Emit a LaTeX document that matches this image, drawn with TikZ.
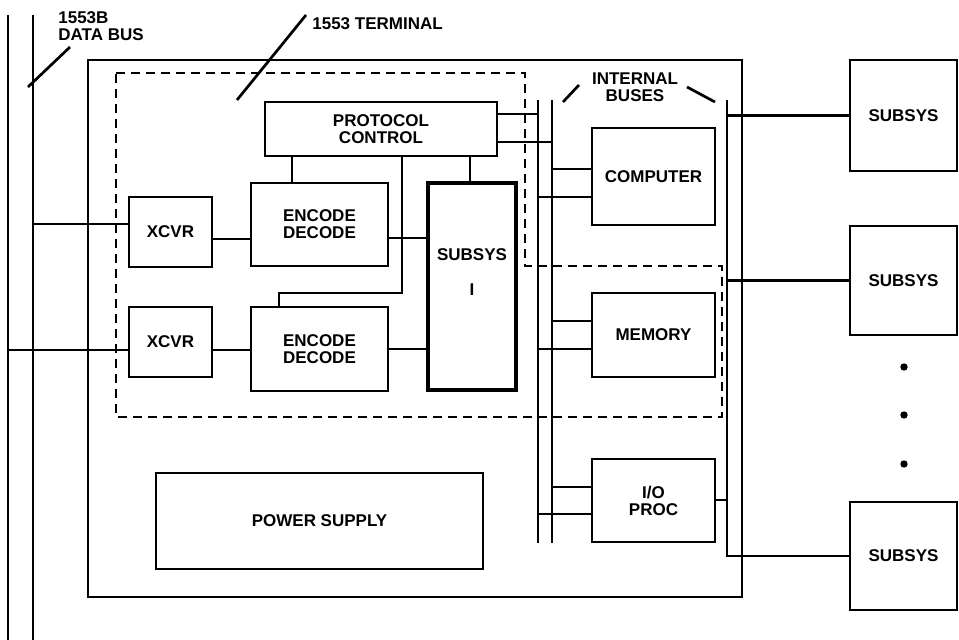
\documentclass[tikz,border=0pt]{standalone}
\usepackage{fontspec}
\setmainfont{Liberation Sans}
\usetikzlibrary{positioning}

\begin{document}
\begin{tikzpicture}[
  x=1pt, y=-1pt,
  line width=2.7pt,
  font=\fontsize{17}{17}\selectfont\bfseries,
  box/.style={draw, align=center, outer sep=0pt, inner sep=2pt, anchor=north west},
  thickbox/.style={box, line width=3.4pt},
  termline/.style={dash pattern=on 9pt off 6pt}
]
\useasboundingbox (0,0) rectangle (959,640);

% terminal and its blocks
\node[box, minimum width=654pt, minimum height=537pt] (terminal) at (88,60) {};
\node[box, minimum width=232pt, minimum height=54pt] (proto) at (265,102) {PROTOCOL\\CONTROL};
\node[box, minimum width=137pt, minimum height=83pt] (encA) at (251,183) {ENCODE\\DECODE};
\node[box, minimum width=137pt, minimum height=84pt, below=41pt of encA] (encB) {ENCODE\\DECODE};
\node[box, minimum width=83pt, minimum height=70pt] (xcvrA) at (129,197) {XCVR};
\node[box, minimum width=83pt, minimum height=70pt, below=40pt of xcvrA] (xcvrB) {XCVR};
\node[thickbox, minimum width=88pt, minimum height=207pt] (subsysI) at (428,183) {};
\node[align=center] (subsysItext) at ([yshift=14pt]subsysI.center) {SUBSYS\\[18pt]I};
\node[box, minimum width=123pt, minimum height=97pt] (computer) at (592,128) {COMPUTER};
\node[box, minimum width=123pt, minimum height=84pt, below=68pt of computer] (memory) {MEMORY};
\node[box, minimum width=123pt, minimum height=83pt, below=82pt of memory] (ioproc) {I/O\\PROC};
\node[box, minimum width=327pt, minimum height=96pt] (power) at (156,473) {POWER SUPPLY};

% outside subsystems
\node[box, minimum width=107pt, minimum height=111pt] (sub1) at (850,60) {SUBSYS};
\node[box, minimum width=107pt, minimum height=109pt, below=55pt of sub1] (sub2) {SUBSYS};
\node[box, minimum width=107pt, minimum height=108pt, below=167pt of sub2] (sub3) {SUBSYS};
\foreach \y in {367,415,464}
  \fill (904,\y) circle (3.7pt);

% labels
\node[align=left, anchor=north west, inner sep=0pt] (buslabel) at (57,10) {1553B\\DATA BUS};
\node[anchor=west, inner sep=0pt] (termlabel) at (311,24) {1553 TERMINAL};
\node[align=center] (ibuslabel) at (635,87) {INTERNAL\\BUSES};
\draw (28,87) -- (70,47);
\draw (237,100) -- (306,15);
\draw (563,102) -- (579,85);
\draw (687,87) -- (715,102);

% dashed 1553 terminal outline
\draw[termline] (116,73) -- (525,73) -- (525,266) -- (722,266) -- (722,417) -- (116,417) -- cycle;

% buses
\coordinate (busA) at (8,15);
\coordinate (busAend) at (8,640);
\coordinate (busB) at (33,15);
\coordinate (busBend) at (33,640);
\coordinate (ibusA) at (538,100);
\coordinate (ibusAend) at (538,543);
\coordinate (ibusB) at (552,100);
\coordinate (ibusBend) at (552,543);
\coordinate (xbus) at (727,100);

\draw (busA) -- (busAend);
\draw (busB) -- (busBend);
\draw (ibusA) -- (ibusAend);
\draw (ibusB) -- (ibusBend);

% data bus to transceivers
\draw (busB |- 0,224) -- (xcvrA.west |- 0,224);
\draw (busA |- 0,350) -- (xcvrB.west |- 0,350);
\draw (xcvrA.east |- 0,239) -- (encA.west |- 0,239);
\draw (xcvrB.east |- 0,350) -- (encB.west |- 0,350);
\draw (encA.east |- 0,238) -- (subsysI.west |- 0,238);
\draw (encB.east |- 0,349) -- (subsysI.west |- 0,349);

% protocol control
\draw (proto.south -| 292,0) -- (encA.north -| 292,0);
\draw (proto.south -| 470,0) -- (subsysI.north -| 470,0);
\draw (proto.south -| 402,0) |- (279,293) -- (encB.north -| 279,0);
\draw (proto.east |- 0,114) -- (ibusA |- 0,114);
\draw (proto.east |- 0,142) -- (ibusB |- 0,142);

% internal buses to blocks
\draw (ibusB |- 0,169) -- (computer.west |- 0,169);
\draw (ibusA |- 0,197) -- (computer.west |- 0,197);
\draw (ibusB |- 0,321) -- (memory.west |- 0,321);
\draw (ibusA |- 0,349) -- (memory.west |- 0,349);
\draw (ibusB |- 0,487) -- (ioproc.west |- 0,487);
\draw (ibusA |- 0,514) -- (ioproc.west |- 0,514);

% I/O bus to subsystems
\draw (ioproc.east |- 0,500) -- (xbus |- 0,500);
\draw (xbus) |- (sub3.west);
\draw (xbus |- sub1.west) -- (sub1.west);
\draw (xbus |- sub2.west) -- (sub2.west);
\end{tikzpicture}
\end{document}
